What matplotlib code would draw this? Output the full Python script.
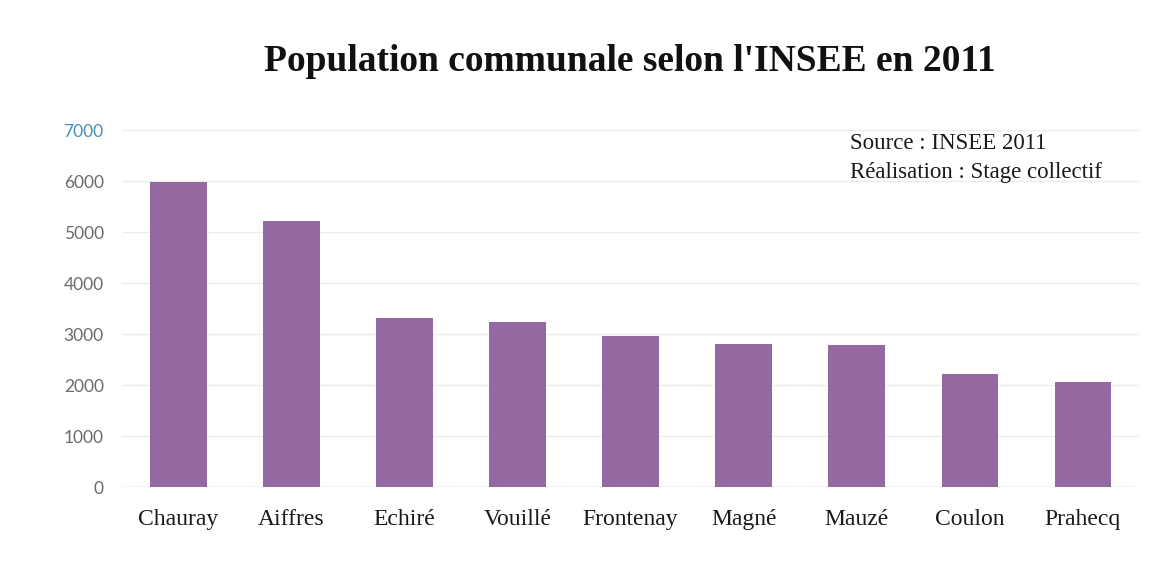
import matplotlib.pyplot as plt

communes = ["Chauray", "Aiffres", "Echiré", "Vouillé", "Frontenay",
            "Magné", "Mauzé", "Coulon", "Prahecq"]
population = [5980, 5215, 3315, 3235, 2960, 2800, 2785, 2215, 2060]
yticks = [0, 1000, 2000, 3000, 4000, 5000, 6000, 7000]

bar_color = "#9468a0"
serif = ["Liberation Serif", "DejaVu Serif"]

fig = plt.figure(figsize=(11.71, 5.78), dpi=100)
ax = fig.add_axes([0.104, 0.1574, 0.869, 0.6176])

x = range(len(communes))
ax.bar(x, population, width=0.5, color=bar_color, zorder=2)

ax.set_xlim(-0.5, len(communes) - 0.5)
ax.set_ylim(0, 7000)
ax.set_yticks(yticks)
ax.set_yticklabels([str(v) for v in yticks], family="Lato", fontsize=12.5,
                   color="#6b6b6b")
ax.get_yticklabels()[-1].set_color("#4a8fb5")
ax.set_xticks(list(x))
ax.set_xticklabels(communes, family=serif, fontsize=17, color="#1a1a1a")
ax.tick_params(axis="both", length=0)
ax.tick_params(axis="x", pad=16)
ax.tick_params(axis="y", pad=13)

ax.grid(axis="y", color="#ececec", linewidth=1, zorder=0)
for s in ax.spines.values():
    s.set_visible(False)
ax.axhline(0, color="#e0e0e0", linewidth=1, zorder=1)

fig.text(0.538, 0.893, "Population communale selon l'INSEE en 2011",
         family=serif, fontsize=27, fontweight="bold", ha="center",
         va="center", color="#111111")
fig.text(0.726, 0.752, "Source : INSEE 2011", family=serif, fontsize=16.5,
         ha="left", va="center", color="#1a1a1a")
fig.text(0.726, 0.702, "Réalisation : Stage collectif", family=serif,
         fontsize=16.5, ha="left", va="center", color="#1a1a1a")

fig.savefig("out.png", dpi=100)
